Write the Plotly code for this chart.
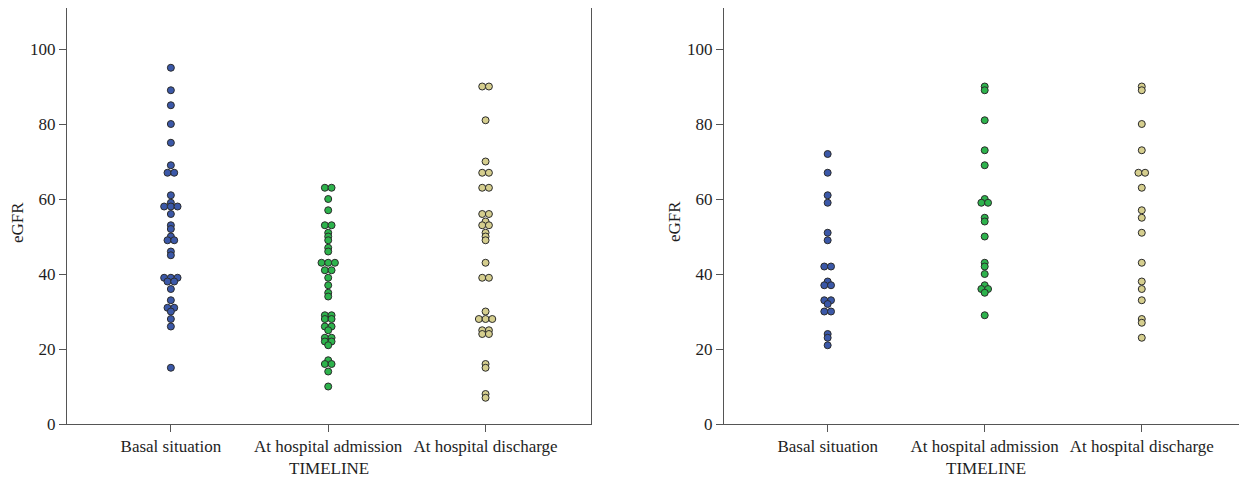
import plotly.graph_objects as go
from collections import defaultdict

# ---------------- data ----------------
categories = ["Basal situation", "At hospital admission", "At hospital discharge"]
y_ticks = [0, 20, 40, 60, 80, 100]

left_basal = [95, 89, 85, 80, 75, 69, 67, 67, 61, 59, 58, 58, 58, 56, 53, 52, 50, 49, 49,
              46, 45, 39, 39, 39, 38, 38, 36, 33, 31, 31, 30, 28, 26, 15]
left_admission = [63, 63, 60, 57, 53, 53, 51, 50, 49, 47, 46, 43, 43, 43, 41, 41, 39, 37, 35, 34,
                  29, 29, 28, 28, 26, 26, 25, 23, 23, 22, 22, 21, 17, 16, 16, 14, 10]
left_discharge = [90, 90, 81, 70, 67, 67, 63, 63, 56, 56, 54, 53, 53, 51, 50, 49, 43, 39, 39,
                  30, 28, 28, 28, 25, 25, 24, 24, 16, 15, 8, 7]

right_basal = [72, 67, 61, 59, 51, 49, 42, 42, 38, 37, 37, 33, 33, 32, 30, 30, 24, 23, 21]
right_admission = [90, 89, 81, 73, 69, 60, 59, 59, 55, 54, 50, 43, 42, 40, 37, 36, 36, 35, 29]
right_discharge = [90, 89, 80, 73, 67, 67, 63, 57, 55, 51, 43, 38, 36, 33, 28, 27, 23]

colors = ["#3b58a8", "#2db34c", "#d5ce8e"]

# ---------------- layout parameters ----------------
OFF = 8                      # page body margin
W, H = 1247 - OFF, 479 - OFF
PLOT_BOTTOM = 424 - OFF      # in figure pixels
PLOT_TOP = 0
PH = PLOT_BOTTOM - PLOT_TOP
left_dom = [(67 - OFF) / W, (591 - OFF) / W]
right_dom = [(724 - OFF) / W, 1.0]
x_range = [-0.66, 2.67]
y_range = [0, PH / 3.75]
dot_px = 6.7
FONT = "Liberation Serif"
TXT = "#1e1e1e"
LINE = "#555555"


def swarm_offsets(values, unit):
    groups = defaultdict(list)
    for i, v in enumerate(values):
        groups[v].append(i)
    offs = [0.0] * len(values)
    for v, idx in groups.items():
        n = len(idx)
        for k, i in enumerate(idx):
            offs[i] = (k - (n - 1) / 2) * unit
    return offs


fig = go.Figure()

panels = [
    (left_dom, [left_basal, left_admission, left_discharge], "x", "y"),
    (right_dom, [right_basal, right_admission, right_discharge], "x2", "y2"),
]

for dom, series, xa, ya in panels:
    px_per_unit = (dom[1] - dom[0]) * W / (x_range[1] - x_range[0])
    unit = dot_px / px_per_unit
    for ci, vals in enumerate(series):
        offs = swarm_offsets(vals, unit)
        fig.add_trace(go.Scatter(
            x=[ci + o for o in offs], y=vals, mode="markers",
            xaxis=xa, yaxis=ya, showlegend=False,
            marker=dict(size=7, color=colors[ci], line=dict(color="#2b2b2b", width=1)),
            hoverinfo="y",
        ))

axis_font = dict(family=FONT, size=17, color=TXT)

xcommon = dict(range=x_range, tickvals=[0, 1, 2], ticktext=categories, showline=True,
               mirror=True, linecolor=LINE, linewidth=1, ticks="outside", ticklen=7,
               tickcolor=LINE, showgrid=False, zeroline=False, tickfont=axis_font)
ycommon = dict(range=y_range, tickvals=y_ticks, showline=True, linecolor=LINE,
               linewidth=1, ticks="outside", ticklen=7, tickcolor=LINE, showgrid=False,
               zeroline=False, tickfont=axis_font)

fig.update_layout(
    width=W, height=H,
    margin=dict(l=0, r=0, t=PLOT_TOP, b=H - PLOT_BOTTOM),
    paper_bgcolor="white", plot_bgcolor="white",
    font=dict(family=FONT, size=17, color=TXT),
    xaxis=dict(domain=left_dom, anchor="y", **xcommon),
    yaxis=dict(domain=[0, 1], anchor="x", mirror=True, **ycommon),
    xaxis2=dict(domain=right_dom, anchor="y2", **xcommon),
    yaxis2=dict(domain=[0, 1], anchor="x2", mirror=False, **ycommon),
)

annotations = []
for dom, ax_x in [(left_dom, 18), (right_dom, 675)]:
    annotations.append(dict(text="TIMELINE", xref="paper", yref="paper",
                            x=(dom[0] + dom[1]) / 2 if dom[1] < 1 else ((724 + 1248) / 2 - OFF) / W,
                            y=-((468 - OFF) - PLOT_BOTTOM) / PH,
                            xanchor="center", yanchor="middle", showarrow=False,
                            font=dict(family=FONT, size=17, color=TXT)))
    annotations.append(dict(text="eGFR", xref="paper", yref="paper",
                            x=(ax_x - OFF) / W, y=(PLOT_BOTTOM - (222 - OFF)) / PH,
                            xanchor="center", yanchor="middle", textangle=-90,
                            showarrow=False, font=dict(family=FONT, size=17, color=TXT)))
fig.update_layout(annotations=annotations)

fig.write_html("out.html")
